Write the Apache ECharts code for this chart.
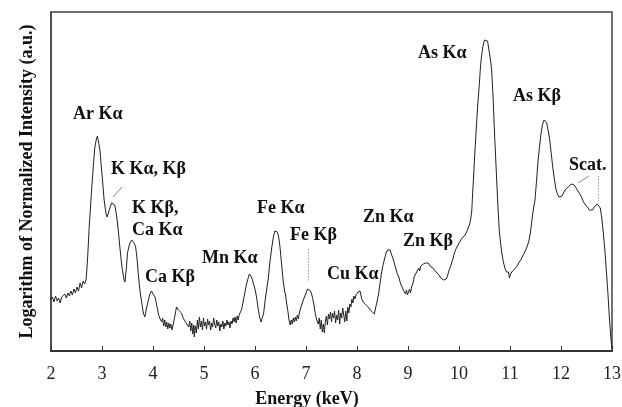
<!DOCTYPE html>
<html>
<head>
<meta charset="utf-8">
<script src="https://cdn.jsdelivr.net/npm/echarts@6/dist/echarts.min.js"></script>
<style>html,body{margin:0;padding:0;background:#fff;}#c{width:622px;height:407px;}</style>
</head>
<body>
<div id="c"></div>
<script>
// Energy (keV) vs. log intensity (a.u.)
const xTicks = [2, 3, 4, 5, 6, 7, 8, 9, 10, 11, 12, 13];

const segArK = [
  [2.00,51],[2.03,54],[2.06,49],[2.09,55],[2.12,50],[2.15,53],[2.18,48],[2.21,54],[2.24,52],[2.27,57],
  [2.30,53],[2.33,58],[2.36,55],[2.39,60],[2.42,56],[2.45,62],[2.48,58],[2.51,64],[2.54,60],[2.57,68],
  [2.60,63],[2.63,70],[2.66,67],[2.69,72],[2.72,95],[2.75,125],[2.78,148],[2.80,164],[2.83,185],[2.86,204],
  [2.89,212],[2.91,215],[2.93,213],[2.96,201],[2.99,182],[3.01,171],[3.04,152],[3.06,144],[3.08,137],[3.10,134],
  [3.13,139],[3.16,144],[3.19,148],[3.22,149],[3.25,146],[3.29,134],[3.32,120],[3.35,104],[3.38,89],[3.40,81],
  [3.43,72],[3.45,69],[3.48,84],[3.50,98],[3.53,105],[3.55,108],[3.58,111],[3.60,111],[3.63,108],[3.66,104],
  [3.69,91],[3.71,78],[3.74,62],[3.78,48],[3.81,38],[3.84,34],[3.87,42],[3.91,51],[3.94,57],[3.97,60],
  [4.00,57],[4.04,54],[4.08,44],[4.11,36],[4.14,32]
];

const segLow = [
  [4.17,29],[4.19,33],[4.21,25],[4.23,31],[4.25,24],[4.27,29],[4.29,22],[4.31,28],[4.33,23],[4.35,27],
  [4.37,21],[4.39,25],[4.41,30],[4.44,38],[4.46,44],[4.48,45],[4.50,41],[4.53,40],[4.56,38],[4.59,33],
  [4.62,34],[4.65,28],[4.68,29],[4.70,24],[4.72,30],[4.74,20],[4.76,28],[4.78,17],[4.80,26],[4.81,14],
  [4.83,25],[4.85,18],[4.87,31],[4.89,22],[4.91,34],[4.93,24],[4.95,30],[4.97,21],[4.99,33],[5.01,25],
  [5.03,29],[5.05,22],[5.07,32],[5.09,26],[5.11,30],[5.13,21],[5.15,28],[5.17,24],[5.19,33],[5.21,27],
  [5.23,23],[5.25,31],[5.27,25],[5.29,29],[5.31,20],[5.33,27],[5.35,24],[5.37,30],[5.39,22],[5.41,28],
  [5.43,25],[5.45,31],[5.47,26],[5.49,29],[5.51,23],[5.53,30],[5.55,27],[5.57,33],[5.59,29],[5.61,34],
  [5.63,28],[5.65,35],[5.67,31],[5.69,36],[5.71,34]
];

const segMnFe = [
  [5.74,42],[5.77,50],[5.80,58],[5.83,66],[5.86,72],[5.89,77],[5.91,76],[5.94,73],[5.97,67],[6.00,62],
  [6.03,54],[6.06,43],[6.09,34],[6.12,29],[6.14,28],[6.17,38],[6.20,51],[6.23,62],[6.26,72],[6.29,88],
  [6.33,104],[6.36,114],[6.39,120],[6.41,122],[6.44,119],[6.47,112],[6.49,104],[6.52,88],[6.55,71],[6.58,60],
  [6.60,56],[6.62,48],[6.65,38],[6.67,30],[6.69,26],[6.71,31],[6.73,27],[6.75,33],[6.77,29],[6.79,34],
  [6.81,30],[6.83,36],[6.85,32],[6.87,38],[6.89,42],[6.91,43],[6.94,50],[6.97,54],[7.00,58],[7.03,62],
  [7.06,64],[7.09,60],[7.12,55],[7.15,48],[7.18,38],[7.21,31],[7.24,27]
];

const segCuZn = [
  [7.26,33],[7.28,22],[7.30,31],[7.32,19],[7.34,27],[7.36,18],[7.38,30],[7.40,35],[7.42,26],[7.44,37],
  [7.46,32],[7.48,39],[7.50,29],[7.52,38],[7.54,33],[7.56,40],[7.58,28],[7.60,36],[7.62,31],[7.64,41],
  [7.66,27],[7.68,38],[7.70,33],[7.72,43],[7.74,36],[7.76,29],[7.78,40],[7.80,30],[7.82,44],[7.84,38],
  [7.86,47],[7.88,44],[7.90,52],[7.92,48],[7.94,55],[7.96,52],[7.98,56],[8.00,54],[8.02,59],[8.04,57],
  [8.06,60],[8.08,55],[8.10,51],[8.12,53],[8.14,48],[8.16,50],[8.18,46],[8.20,48],[8.22,44],[8.24,45],
  [8.26,41],[8.28,43],[8.30,39],[8.32,40],[8.34,37],[8.36,42],[8.38,44],[8.40,51],[8.42,56],[8.45,67],
  [8.48,78],[8.51,86],[8.54,92],[8.57,98],[8.60,101],[8.63,103],[8.65,101],[8.68,96],[8.71,92],[8.74,86],
  [8.77,81],[8.79,77],[8.82,74],[8.85,68],[8.87,66],[8.90,62],[8.92,60],[8.95,57],[8.97,61],[8.99,56],
  [9.01,58],[9.03,62],[9.05,58],[9.07,64],[9.10,68],[9.12,74],[9.14,72],[9.16,78],[9.19,80],[9.21,83],
  [9.23,80],[9.25,85],[9.28,84],[9.30,87],[9.33,85],[9.35,88],[9.38,87],[9.40,88],[9.43,85],[9.46,86],
  [9.49,83],[9.52,81],[9.55,79],[9.58,77],[9.61,76],[9.64,73],[9.67,74],[9.70,71],[9.73,70],[9.75,72],
  [9.78,76],[9.80,80],[9.83,84],[9.86,89],[9.88,92],[9.91,98],[9.93,101],[9.96,104],[9.98,106],[10.00,108],
  [10.03,110],[10.06,113],[10.09,114],[10.12,116],[10.15,119],[10.18,121]
];

const segAs = [
  [10.21,127],[10.23,132],[10.25,140],[10.27,160],[10.29,178],[10.31,198],[10.33,215],[10.35,232],[10.37,248],[10.40,268],
  [10.42,283],[10.44,294],[10.47,305],[10.50,311],[10.53,313],[10.56,310],[10.59,300],[10.62,290],[10.64,281],[10.67,252],
  [10.70,214],[10.73,181],[10.76,148],[10.79,120],[10.82,106],[10.84,98],[10.87,89],[10.90,83],[10.93,79],[10.95,77],
  [10.97,79],[10.99,73],[11.01,77],[11.03,76],[11.05,80],[11.07,78],[11.09,82],[11.11,80],[11.14,85],[11.17,88],
  [11.19,86],[11.22,92],[11.25,94],[11.28,98],[11.31,101],[11.34,105],[11.37,110],[11.40,118],[11.43,131],[11.46,142],
  [11.49,151],[11.52,170],[11.55,190],[11.58,205],[11.61,218],[11.64,227],[11.67,231],[11.69,231],[11.72,228],[11.75,220],
  [11.78,211],[11.81,197],[11.84,183],[11.87,172],[11.90,162],[11.93,157],[11.96,154],[11.99,153],[12.02,155],[12.05,158],
  [12.08,161],[12.11,163],[12.14,164],[12.17,165],[12.20,167],[12.23,167],[12.26,166],[12.29,164],[12.32,161],[12.35,159],
  [12.38,156],[12.41,153],[12.44,149],[12.47,147],[12.50,145],[12.53,143],[12.56,141],[12.59,142],[12.62,141],[12.65,144],
  [12.68,146],[12.71,147],[12.74,147],[12.77,143],[12.80,133],[12.83,118],[12.86,101],[12.89,80],[12.92,58],[12.95,32],
  [12.98,12],[13.00,2]
];

const spectrum = segArK.concat(segLow, segMnFe, segCuZn, segAs);

const peakLabels = [
  { text: 'Ar K\u03b1', x: 73, y: 115 },
  { text: 'K K\u03b1, K\u03b2', x: 111, y: 170 },
  { text: 'K K\u03b2,', x: 132, y: 209 },
  { text: 'Ca K\u03b1', x: 132, y: 231 },
  { text: 'Ca K\u03b2', x: 145, y: 278 },
  { text: 'Mn K\u03b1', x: 202, y: 259 },
  { text: 'Fe K\u03b1', x: 257, y: 209 },
  { text: 'Fe K\u03b2', x: 290, y: 236 },
  { text: 'Cu K\u03b1', x: 327, y: 275 },
  { text: 'Zn K\u03b1', x: 363, y: 218 },
  { text: 'Zn K\u03b2', x: 403, y: 242 },
  { text: 'As K\u03b1', x: 418, y: 54 },
  { text: 'As K\u03b2', x: 513, y: 97 },
  { text: 'Scat.', x: 569, y: 166 }
];

const serif = "'Liberation Serif', 'DejaVu Serif', 'Times New Roman', serif";
const chart = echarts.init(document.getElementById('c'), null, { renderer: 'canvas' });

const graphics = peakLabels.map(l => ({
  type: 'text', left: l.x, top: l.y - 10, z: 10,
  style: { text: l.text, font: 'bold 18px ' + serif, fill: '#111' }
}));
graphics.push(
  { type: 'line', z: 10, shape: { x1: 122, y1: 187, x2: 113, y2: 197 }, style: { stroke: '#888', lineWidth: 1 } },
  { type: 'line', z: 10, shape: { x1: 308.5, y1: 249, x2: 308.5, y2: 282 }, style: { stroke: '#999', lineWidth: 1, lineDash: [1.5, 1.5] } },
  { type: 'line', z: 10, shape: { x1: 589, y1: 176, x2: 578, y2: 183 }, style: { stroke: '#888', lineWidth: 1 } },
  { type: 'line', z: 10, shape: { x1: 598.5, y1: 176, x2: 598.5, y2: 201 }, style: { stroke: '#999', lineWidth: 1, lineDash: [1.5, 1.5] } }
);

chart.setOption({
  animation: false,
  backgroundColor: '#fff',
  grid: { left: 51, right: 10, top: 12, bottom: 56, outerBoundsMode: 'none', containLabel: false, show: true, borderColor: '#444', borderWidth: 1.5, backgroundColor: 'transparent' },
  xAxis: {
    type: 'value', min: xTicks[0], max: xTicks[xTicks.length - 1], interval: 1,
    axisLine: { show: true, onZero: false, lineStyle: { color: '#333', width: 2 } },
    axisTick: { show: true, inside: true, length: 5, lineStyle: { color: '#333', width: 1 } },
    axisLabel: { fontFamily: serif, fontSize: 18, color: '#222', margin: 14 },
    splitLine: { show: false },
    name: 'Energy (keV)', nameLocation: 'middle', nameGap: 39,
    nameTextStyle: { fontFamily: serif, fontWeight: 'bold', fontSize: 18, color: '#111', padding: [0, 49, 0, 0] }
  },
  yAxis: {
    type: 'value', min: 0, max: 339,
    axisLine: { show: true, lineStyle: { color: '#444', width: 1.5 } },
    axisTick: { show: false }, axisLabel: { show: false }, splitLine: { show: false },
    name: 'Logarithm of Normalized Intensity (a.u.)', nameLocation: 'middle', nameGap: 15,
    nameTextStyle: { fontFamily: serif, fontWeight: 'bold', fontSize: 18, color: '#111' }
  },
  series: [{
    type: 'line', data: spectrum, showSymbol: false, smooth: false, clip: true,
    lineStyle: { color: '#222', width: 1 }
  }],
  graphic: graphics
});
</script>
</body>
</html>
